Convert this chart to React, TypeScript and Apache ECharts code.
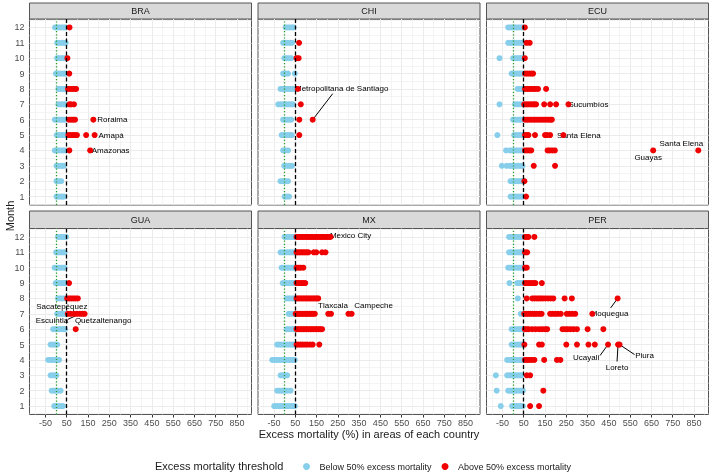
import React, { useEffect, useRef } from "react";
import * as echarts from "echarts";

// ---------- data ----------
const countries = ["BRA", "CHI", "ECU", "GUA", "MX", "PER"];
const monthTicks = [1, 2, 3, 4, 5, 6, 7, 8, 9, 10, 11, 12];
const monthMinorGrid = [0.5, 1.5, 2.5, 3.5, 4.5, 5.5, 6.5, 7.5, 8.5, 9.5, 10.5, 11.5, 12.5];
const xTickValues = [-50, 50, 150, 250, 350, 450, 550, 650, 750, 850];
const xMinorGrid = [-100, 0, 100, 200, 300, 400, 500, 600, 700, 800, 900];
const threshold = 50;
const zeroLine = 0;
const legendNames = ["Below 50% excess mortality", "Above 50% excess mortality"];

// excess mortality (%) per area; index 0 = month 1 ... index 11 = month 12
const BRA: number[][] = [
  [2, 12, 22, 30, 38],
  [2, 12, 24],
  [2, 12, 22, 30, 37],
  [-6, 4, 14, 24, 34, 44, 62, 160],
  [3, 13, 23, 33, 43, 58, 67, 77, 87, 98, 141, 181],
  [-6, 4, 14, 24, 34, 44, 60, 70, 80, 89, 175],
  [11, 21, 31, 41, 48, 62, 70, 84],
  [11, 21, 31, 41, 48, 56, 66, 76, 86, 94],
  [-1, 9, 19, 29, 39, 47, 62],
  [5, 15, 25, 35, 45, 53],
  [5, 15, 25, 35, 45],
  [-5, 5, 15, 25, 35, 44, 63],
];
const CHI: number[][] = [
  [0, 10, 21],
  [-19, -8, 4, 16],
  [-2, 8, 18, 27, 35],
  [-7, 4, 16],
  [-14, -4, 6, 16, 25, 34, 69],
  [-7, 3, 13, 22, 31, 69, 132],
  [-30, -20, -10, 0, 10, 20, 30, 39, 76],
  [-19, -9, 1, 11, 21, 30, 39, 62],
  [-7, 5, 16, 48],
  [-1, 10, 20, 31, 56, 66],
  [-7, 3, 13, 24, 35, 68],
  [5, 15, 25, 35, 42],
];
const ECU: number[][] = [
  [-12, -2, 8, 18, 27, 36, 44, 61],
  [-12, -2, 8, 18, 27, 36, 44, 53],
  [-53, -31, -16, -6, 4, 14, 24, 34, 44, 97, 197],
  [-33, -15, -5, 5, 15, 25, 35, 44, 56, 66, 76, 85, 162, 172, 184, 196, 658, 870],
  [-74, 5, 15, 25, 35, 44, 56, 64, 72, 103, 150, 160, 174, 236],
  [0, 10, 20, 28, 36, 44, 56, 66, 76, 86, 96, 106, 116, 126, 136, 146, 156, 166, 176, 182],
  [-64, 9, 20, 31, 42, 52, 62, 72, 82, 92, 100, 108, 146, 174, 202, 260],
  [21, 30, 38, 46, 56, 66, 76, 86, 96, 106, 117, 155],
  [-7, 3, 13, 23, 31, 38, 46, 56, 66, 76, 86, 94],
  [-64, 0, 10, 20, 29, 38, 46, 55],
  [-23, -13, -3, 7, 17, 27, 38, 46, 63, 78],
  [-23, -13, -3, 7, 17, 27, 38, 46, 55],
];
const GUA: number[][] = [
  [-9, 1, 11, 22, 32],
  [-21, -11, -1, 10, 21],
  [-26, -16, -6, 1],
  [-37, -27, -17, -7, 3, 14],
  [-26, -15, -5, 5],
  [-14, -4, 6, 16, 26, 34, 42, 92],
  [5, 15, 25, 35, 42, 55, 68, 84, 98, 112, 124, 134],
  [9, 19, 30, 40, 52, 62, 72, 82, 92, 102],
  [-2, 8, 18, 27, 36, 44, 61],
  [-7, 3, 13, 23, 32, 40],
  [0, 10, 20, 30, 40],
  [9, 19, 29, 38, 47],
];
const MX: number[][] = [
  [-49, -39, -29, -19, -9, 1, 11, 21, 31, 41, 48],
  [-35, -25, -15, -5, 5, 15, 28],
  [-19, -9, 2, 12],
  [-58, -48, -38, -28, -18, -8, 2, 12, 22, 32, 42, 48],
  [-35, -25, -15, -5, 5, 15, 25, 35, 44, 56, 65, 75, 85, 96, 107, 120, 132, 163],
  [9, 19, 29, 39, 46, 56, 64, 72, 80, 88, 96, 104, 112, 120, 128, 136, 144, 152, 160, 168, 176],
  [19, 30, 40, 52, 60, 68, 76, 84, 92, 100, 108, 116, 124, 132, 142, 205, 218, 300, 315],
  [9, 19, 29, 39, 46, 56, 64, 72, 80, 88, 96, 104, 112, 120, 128, 136, 144, 152, 158],
  [-9, 1, 11, 21, 31, 40, 46, 56, 64, 72, 80, 88, 97],
  [-14, -4, 6, 16, 26, 35, 44, 56, 66, 76, 88],
  [-19, -9, 1, 11, 21, 30, 39, 46, 56, 64, 72, 80, 88, 96, 104, 112, 137, 149, 176, 192],
  [0, 10, 20, 30, 40, 46, 56, 64, 72, 80, 88, 96, 104, 112, 120, 128, 136, 144, 152, 160, 168, 176, 184, 192, 200, 208, 216],
];
const PER: number[][] = [
  [-58, -5, 5, 15, 25, 35, 46, 80, 122],
  [-77, -23, -13, -3, 7, 17, 27, 37, 46, 142],
  [-81, -28, -18, -8, 2, 12, 22, 32, 40, 64, 80],
  [-28, -18, -8, 2, 12, 22, 32, 40, 46, 56, 66, 76, 88, 100, 146, 206, 222],
  [-7, 3, 13, 23, 32, 40, 46, 53, 122, 135, 250, 300, 354, 384, 446, 493, 500],
  [-7, 3, 13, 23, 32, 40, 46, 55, 64, 74, 90, 106, 122, 136, 150, 160, 232, 244, 256, 270, 284, 300, 350, 424],
  [36, 52, 62, 72, 82, 92, 102, 112, 124, 134, 174, 186, 198, 210, 224, 252, 264, 278, 292, 372],
  [22, 64, 90, 100, 110, 120, 130, 140, 152, 164, 176, 189, 242, 276, 491],
  [-17, 19, 29, 38, 45, 56, 65, 75, 85, 95, 105, 135],
  [-23, -13, -3, 7, 17, 27, 37, 46, 56, 64],
  [-19, -9, 1, 11, 21, 30, 38, 45, 56, 66],
  [-19, -9, 1, 11, 21, 30, 38, 45, 56, 64, 72, 100],
];
const valuesByCountry: Record<string, number[][]> = { BRA, CHI, ECU, GUA, MX, PER };

// labelled areas
const annotationCountry = ["BRA", "BRA", "BRA", "CHI", "ECU", "ECU", "ECU", "ECU", "GUA", "GUA", "GUA", "MX", "MX", "MX", "PER", "PER", "PER", "PER"];
const annotationMonth = [6, 5, 4, 6, 7, 5, 4, 4, 7, 7, 7, 12, 7, 7, 8, 5, 5, 5];
const annotationValue = [175, 181, 160, 132, 260, 236, 870, 658, 55, 112, 134, 216, 218, 315, 491, 446, 493, 500];
const annotationName = [
  "Roraima", "Amapá", "Amazonas", "Metropolitana de Santiago", "Sucumbíos", "Santa Elena", "Santa Elena", "Guayas",
  "Sacatepéquez", "Escuintla", "Quetzaltenango", "Mexico City", "Tlaxcala", "Campeche", "Moquegua", "Ucayali", "Loreto", "Piura",
];

// ---------- layout / style (not data) ----------
const FONT = "'Liberation Sans', Arial, Helvetica, sans-serif";
const BLUE = "#87CEEB";
const RED = "#F00000";
const gridLefts = [29.5, 258, 486.5];
const gridWidth = 222;
const rowTops = [19, 228.5];
const gridHeight = 186;
const stripTops = [3, 211];
const stripHeights = [16, 17.5];
const xMin = -125;
const xMax = 918;
// text-centre offsets from the point (px) and optional leader-line end offsets from text centre
const labelOffsets: { dx: number; dy: number; lx?: number; ly?: number }[] = [
  { dx: 19, dy: 0 },
  { dx: 16.5, dy: 0 },
  { dx: 20.5, dy: 0 },
  { dx: 29, dy: -31, lx: -9, ly: 5 },
  { dx: 20, dy: 0 },
  { dx: 15.5, dy: 0 },
  { dx: -17, dy: -6.5 },
  { dx: -5, dy: 7 },
  { dx: -6, dy: -7 },
  { dx: -28, dy: 6.5, lx: 16, ly: -1 },
  { dx: 18.5, dy: 6.5 },
  { dx: 20, dy: -1.5 },
  { dx: 2, dy: -8 },
  { dx: 22, dy: -8 },
  { dx: -8, dy: 15, lx: 1, ly: -5.5 },
  { dx: -22, dy: 13, lx: 14, ly: -2 },
  { dx: -1, dy: 23, lx: 0, ly: -6 },
  { dx: 25, dy: 11, lx: -10, ly: -1 },
];

export default function App() {
  const ref = useRef<HTMLDivElement>(null);

  useEffect(() => {
    if (!ref.current) return;
    const chart = echarts.init(ref.current, null, { renderer: "svg" });

    const grids = countries.map((_, i) => ({
      left: gridLefts[i % 3],
      top: rowTops[Math.floor(i / 3)],
      width: gridWidth,
      height: gridHeight,
      show: true,
      borderColor: "#555555",
      borderWidth: 1,
      backgroundColor: "#FFFFFF",
    }));

    const xAxes = countries.map((_, i) => {
      const bottom = i >= 3;
      return {
        gridIndex: i,
        type: "value",
        min: xMin,
        max: xMax,
        axisLine: { show: false },
        axisTick: { show: bottom, length: 3, lineStyle: { color: "#333333" }, customValues: xTickValues },
        axisLabel: { show: bottom, customValues: xTickValues, color: "#4D4D4D", fontSize: 9, margin: 4, fontFamily: FONT },
        splitLine: { show: false },
      };
    });

    const yAxes = countries.map((_, i) => {
      const left = i % 3 === 0;
      return {
        gridIndex: i,
        type: "value",
        min: 0.45,
        max: 12.55,
        axisLine: { show: false },
        axisTick: { show: left, length: 3, lineStyle: { color: "#333333" }, customValues: monthTicks },
        axisLabel: { show: left, customValues: monthTicks, color: "#4D4D4D", fontSize: 9, margin: 5, fontFamily: FONT },
        splitLine: { show: false },
      };
    });

    const series: any[] = [];
    countries.forEach((c, i) => {
      const vals = valuesByCountry[c];
      const below: number[][] = [];
      const above: number[][] = [];
      vals.forEach((arr, mi) => arr.forEach((v) => (v < threshold ? below : above).push([v, mi + 1])));
      series.push({
        type: "scatter",
        name: "grid-" + c,
        xAxisIndex: i,
        yAxisIndex: i,
        data: [],
        z: 1,
        silent: true,
        markLine: {
          z: 1,
          silent: true,
          symbol: ["none", "none"],
          label: { show: false },
          animation: false,
          lineStyle: { color: "#EBEBEB", width: 1, type: "solid" },
          data: [
            ...xTickValues.map((v) => ({ xAxis: v })),
            ...xMinorGrid.map((v) => ({ xAxis: v, lineStyle: { color: "#EFEFEF", width: 0.7, type: "solid" } })),
            ...monthTicks.map((v) => ({ yAxis: v })),
            ...monthMinorGrid.map((v) => ({ yAxis: v, lineStyle: { color: "#EFEFEF", width: 0.7, type: "solid" } })),
          ],
        },
      });
      series.push({
        type: "scatter",
        name: legendNames[0],
        xAxisIndex: i,
        yAxisIndex: i,
        data: below,
        symbol: "circle",
        symbolSize: 6,
        itemStyle: { color: BLUE, opacity: 1 },
        z: 4,
        silent: true,
      });
      series.push({
        type: "scatter",
        name: legendNames[1],
        xAxisIndex: i,
        yAxisIndex: i,
        data: above,
        symbol: "circle",
        symbolSize: 6,
        itemStyle: { color: RED, opacity: 1 },
        z: 4,
        silent: true,
      });
      series.push({
        type: "scatter",
        name: "ref-" + c,
        xAxisIndex: i,
        yAxisIndex: i,
        data: [],
        z: 6,
        silent: true,
        markLine: {
          z: 6,
          silent: true,
          symbol: ["none", "none"],
          label: { show: false },
          animation: false,
          data: [
            { xAxis: zeroLine, lineStyle: { color: "#229A2A", type: [1.2, 2], width: 1.3 } },
            { xAxis: threshold, lineStyle: { color: "#000000", type: [4, 2.5], width: 1.3 } },
          ],
        },
      });
    });

    const staticGraphics: any[] = [];
    countries.forEach((c, i) => {
      const row = Math.floor(i / 3);
      const left = gridLefts[i % 3];
      staticGraphics.push({
        type: "rect",
        shape: { x: left, y: stripTops[row], width: gridWidth, height: stripHeights[row] },
        style: { fill: "#D9D9D9", stroke: "#555555", lineWidth: 1 },
        z: 1,
      });
      staticGraphics.push({
        type: "text",
        x: left + gridWidth / 2,
        y: stripTops[row] + stripHeights[row] / 2,
        style: { text: c, fontSize: 9, fontFamily: FONT, fill: "#1A1A1A", align: "center", verticalAlign: "middle", textAlign: "center", textVerticalAlign: "middle" },
        z: 2,
      });
    });
    staticGraphics.push({
      type: "text",
      x: 369,
      y: 434,
      style: { text: "Excess mortality (%) in areas of each country", fontSize: 11, fontFamily: FONT, fill: "#1A1A1A", align: "center", verticalAlign: "middle", textAlign: "center", textVerticalAlign: "middle" },
    });
    staticGraphics.push({
      type: "text",
      x: 10,
      y: 216,
      rotation: Math.PI / 2,
      style: { text: "Month", fontSize: 11, fontFamily: FONT, fill: "#1A1A1A", align: "center", verticalAlign: "middle", textAlign: "center", textVerticalAlign: "middle" },
    });
    staticGraphics.push({
      type: "text",
      x: 155,
      y: 466,
      style: { text: "Excess mortality threshold", fontSize: 11, fontFamily: FONT, fill: "#1A1A1A", align: "left", verticalAlign: "middle", textAlign: "left", textVerticalAlign: "middle" },
    });

    chart.setOption({
      animation: false,
      textStyle: { fontFamily: FONT },
      grid: grids,
      xAxis: xAxes,
      yAxis: yAxes,
      legend: {
        data: legendNames.map((n) => ({ name: n, icon: "circle" })),
        left: 298,
        top: 457,
        itemWidth: 16,
        itemHeight: 7,
        itemGap: 10,
        selectedMode: false,
        textStyle: { fontSize: 9, color: "#1A1A1A", fontFamily: FONT },
      },
      series,
      graphic: staticGraphics,
    });

    const labelGraphics: any[] = [];
    annotationName.forEach((name, k) => {
      const p = countries.indexOf(annotationCountry[k]);
      const pt = chart.convertToPixel({ gridIndex: p } as any, [annotationValue[k], annotationMonth[k]]) as number[];
      if (!pt) return;
      const o = labelOffsets[k];
      const cx = pt[0] + o.dx;
      const cy = pt[1] + o.dy;
      if (o.lx !== undefined && o.ly !== undefined) {
        labelGraphics.push({
          type: "line",
          shape: { x1: pt[0], y1: pt[1], x2: cx + o.lx, y2: cy + o.ly },
          style: { stroke: "#000000", lineWidth: 1 },
          z: 3,
        });
      }
      labelGraphics.push({
        type: "text",
        x: cx,
        y: cy,
        style: { text: name, fontSize: 8, fontFamily: FONT, fill: "#000000", align: "center", verticalAlign: "middle", textAlign: "center", textVerticalAlign: "middle" },
        z: 3,
      });
    });
    chart.setOption({ graphic: [...staticGraphics, ...labelGraphics] });

    return () => chart.dispose();
  }, []);

  return <div ref={ref} style={{ position: "fixed", left: 0, top: 0, width: 712, height: 473 }} />;
}
